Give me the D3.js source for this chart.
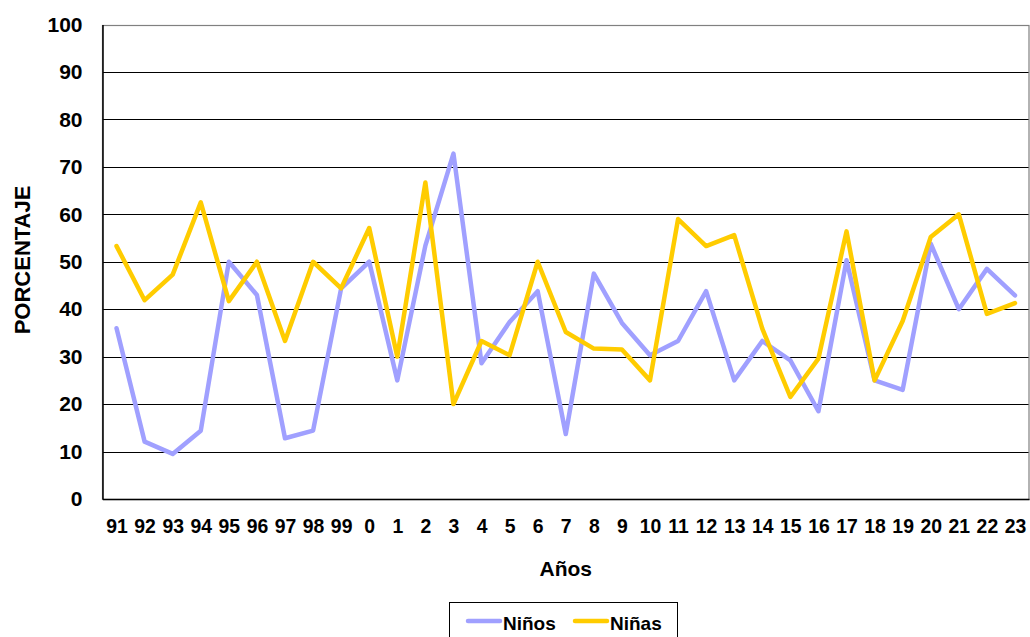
<!DOCTYPE html>
<html>
<head>
<meta charset="utf-8">
<script src="https://cdn.jsdelivr.net/npm/d3@7/dist/d3.min.js"></script>
<style>
  html, body { margin: 0; padding: 0; background: #fff; }
  svg { display: block; font-family: Arial, "Liberation Sans", sans-serif; font-weight: bold; }
</style>
</head>
<body>
<svg id="chart" width="1030" height="637"></svg>
<script>
// Años (1991–2023) y porcentajes por sexo
const years = ["91","92","93","94","95","96","97","98","99","0","1","2","3","4","5","6","7","8","9","10","11","12","13","14","15","16","17","18","19","20","21","22","23"];
const ninos = [36.0, 12.1, 9.5, 14.4, 50.0, 43.0, 12.8, 14.4, 44.4, 50.0, 25.0, 53.4, 72.8, 28.6, 37.3, 43.8, 13.7, 47.5, 37.1, 30.3, 33.3, 43.8, 25.0, 33.3, 29.2, 18.5, 50.3, 25.0, 23.0, 53.8, 40.0, 48.5, 42.9];
const ninas = [53.3, 41.9, 47.3, 62.5, 41.7, 50.0, 33.3, 50.0, 44.4, 57.1, 30.0, 66.7, 20.0, 33.3, 30.3, 50.0, 35.2, 31.7, 31.5, 25.0, 59.0, 53.3, 55.6, 35.9, 21.5, 29.6, 56.4, 25.0, 37.5, 55.2, 60.0, 39.0, 41.3];
const yTicks = [0, 10, 20, 30, 40, 50, 60, 70, 80, 90, 100];
const seriesNames = ["Niños", "Niñas"];
const seriesColors = ["#A0A0FF", "#FFCC00"];

const svg = d3.select("#chart");
const plot = { left: 102.5, right: 1029, top: 24.5, bottom: 499 };

const x = d3.scalePoint().domain(years).range([plot.left, plot.right]).padding(0.5);
const y = d3.scaleLinear().domain([0, 100]).range([plot.bottom, plot.top]);

// horizontal gridlines
svg.append("g")
  .selectAll("line")
  .data(yTicks)
  .join("line")
  .attr("x1", plot.left).attr("x2", plot.right)
  .attr("y1", d => Math.round(y(d)) + 0.5).attr("y2", d => Math.round(y(d)) + 0.5)
  .attr("stroke", "#000").attr("stroke-width", 1.2);

// plot frame
svg.append("rect")
  .attr("x", plot.left).attr("y", Math.round(plot.top) + 0.5)
  .attr("width", plot.right - plot.left).attr("height", Math.round(plot.bottom) - Math.round(plot.top))
  .attr("fill", "none").attr("stroke", "#808080").attr("stroke-width", 1.2);

// y axis
const yAxis = svg.append("g")
  .attr("transform", `translate(${plot.left},0)`)
  .call(d3.axisLeft(y).tickValues(yTicks).tickSize(0).tickPadding(20));
yAxis.select(".domain").attr("stroke", "#000").attr("stroke-width", 1.5);
yAxis.selectAll("text").attr("font-size", 21).attr("font-weight", "bold")
  .attr("font-family", "Arial, 'Liberation Sans', sans-serif").attr("fill", "#000");

// x axis
const xAxis = svg.append("g")
  .attr("transform", `translate(0,${plot.bottom})`)
  .call(d3.axisBottom(x).tickSize(0).tickPadding(0));
xAxis.select(".domain").attr("stroke", "#000").attr("stroke-width", 1.5);
xAxis.selectAll("text")
  .attr("y", 34)
  .attr("dy", 0)
  .attr("font-size", 20).attr("font-weight", "bold")
  .attr("font-family", "Arial, 'Liberation Sans', sans-serif").attr("fill", "#000")
  .attr("transform", "scale(0.97,1)");

// series lines
const line = d3.line().x((d, i) => x(years[i])).y(d => y(d));
[ninos, ninas].forEach((vals, k) => {
  svg.append("path")
    .datum(vals)
    .attr("d", line)
    .attr("fill", "none")
    .attr("stroke", seriesColors[k])
    .attr("stroke-width", 4.5)
    .attr("stroke-linejoin", "round")
    .attr("stroke-linecap", "round");
});

// axis titles
svg.append("text")
  .attr("x", (plot.left + plot.right) / 2).attr("y", 576)
  .attr("text-anchor", "middle").attr("font-size", 21).text("Años");

svg.append("text")
  .attr("transform", "translate(29.5,260) rotate(-90)")
  .attr("text-anchor", "middle").attr("font-size", 22).text("PORCENTAJE");

// legend
const legend = svg.append("g");
legend.append("rect")
  .attr("x", 449.5).attr("y", 602.5).attr("width", 228).attr("height", 40)
  .attr("fill", "#fff").attr("stroke", "#000").attr("stroke-width", 1);
const legendX = [468, 575];
seriesNames.forEach((name, k) => {
  legend.append("line")
    .attr("x1", legendX[k]).attr("x2", legendX[k] + 32)
    .attr("y1", 621).attr("y2", 621)
    .attr("stroke", seriesColors[k]).attr("stroke-width", 4.5).attr("stroke-linecap", "round");
  legend.append("text")
    .attr("x", legendX[k] + 35).attr("y", 630)
    .attr("font-size", 19).text(name);
});
</script>
</body>
</html>
